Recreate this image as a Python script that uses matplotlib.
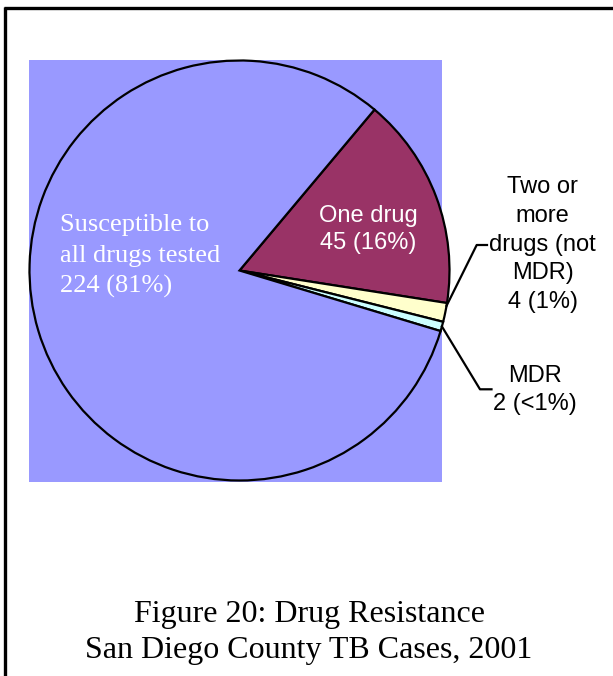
import matplotlib
matplotlib.use("Agg")
import matplotlib.pyplot as plt
import numpy as np
from matplotlib.lines import Line2D
from matplotlib.patches import Rectangle

# Drug resistance among TB cases, San Diego County, 2001
categories = ["One drug", "Two or\nmore\ndrugs (not\nMDR)", "MDR", "Susceptible to\nall drugs tested"]
cases = [45, 4, 2, 224]
colors = ["#993366", "#FFFFCC", "#CCFFFF", "#9999FF"]
title_lines = ["Figure 20: Drug Resistance", "San Diego County TB Cases, 2001"]

W, H = 613, 676
SERIF = "Liberation Serif"
SANS = "Liberation Sans"

fig = plt.figure(figsize=(W / 100, H / 100), dpi=100)
fig.patch.set_facecolor("white")

# axes in pixel units (y measured upward)
ax = fig.add_axes([0, 0, 1, 1])

def py(y):
    return H - y

# plot-area background
ax.add_patch(Rectangle((29, py(482)), 442 - 29, 482 - 60,
                       facecolor="#9999FF", edgecolor="none", zorder=0))

cx, cy, r = 239.5, py(270.5), 210
wedges, _ = ax.pie(cases, colors=colors, startangle=50, counterclock=False,
                   center=(cx, cy), radius=r,
                   wedgeprops=dict(edgecolor="black", linewidth=1.6))
for w in wedges:
    w.set_zorder(2)

ax.set_xlim(0, W)
ax.set_ylim(0, H)
ax.set_aspect("equal")
ax.axis("off")

total = sum(cases)

def value_text(v):
    pct = 100 * v / total
    p = "<1%" if pct < 1 else f"{pct:.0f}%"
    return f"{v} ({p})"

def draw_lines(x, y0, lines, step, **kw):
    for i, s in enumerate(lines):
        ax.text(x, py(y0 + i * step), s, va="baseline", zorder=5, **kw)

# slice labels
draw_lines(60, 230.5, categories[3].split("\n") + [value_text(cases[3])], 31.2,
           ha="left", color="white", fontsize=19, family=SERIF)
draw_lines(368.5, 221.7, [categories[0], value_text(cases[0])], 27.6,
           ha="center", color="white", fontsize=17, family=SANS)
draw_lines(542.5, 193.0, categories[1].split("\n") + [value_text(cases[1])], 28.8,
           ha="center", color="black", fontsize=17, family=SANS)
draw_lines(535, 381.7, [categories[2], value_text(cases[2])], 28.5,
           ha="center", color="black", fontsize=17, family=SANS)

# leader lines from the small slices to their labels
def edge_point(w, frac):
    a = np.deg2rad(w.theta1 + frac * (w.theta2 - w.theta1))
    return cx + r * np.cos(a), cy + r * np.sin(a)

x0, y0 = edge_point(wedges[1], 0.85)
ax.add_line(Line2D([x0, 476.7, 487], [y0, py(245), py(245)],
                   color="black", linewidth=1.6, zorder=4))
x0, y0 = edge_point(wedges[2], 0.5)
ax.add_line(Line2D([x0, 480, 491.5], [y0, py(389.3), py(389.3)],
                   color="black", linewidth=1.6, zorder=4))

# figure title
draw_lines(309, 621.7, title_lines, 36.6, ha="center", color="black",
           fontsize=23, family=SERIF)

# outer frame (top and left edges)
ax.add_line(Line2D([4, W], [py(7.8), py(7.8)], color="black", linewidth=2.4,
                   solid_capstyle="butt", zorder=6))
ax.add_line(Line2D([5.2, 5.2], [py(6.7), 0], color="black", linewidth=2.4,
                   solid_capstyle="butt", zorder=6))

fig.savefig("out.png", dpi=100)
